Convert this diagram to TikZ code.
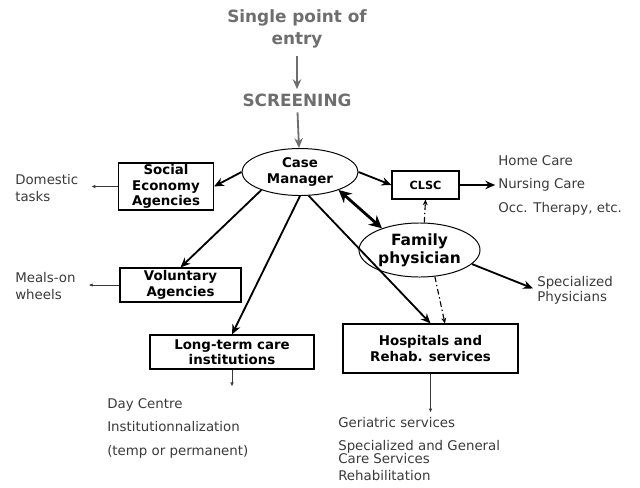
\documentclass[tikz,border=0pt]{standalone}
\usepackage{fontspec}
\setmainfont{DejaVu Sans}
\usetikzlibrary{
    positioning,
    arrows.meta,
    shapes.geometric
    }
\definecolor{titlegray}{HTML}{6E6E6E}
\definecolor{textgray}{HTML}{3A3A3A}

\begin{document}
\begin{tikzpicture}[x=0.025cm, y=-0.025cm]
\tikzset{title/.style =
        {
            align=center,
            inner sep=0pt,
            text=titlegray,
            font=\fontsize{12}{15.6}\selectfont\bfseries
        }
}

\tikzset{service/.style =
        {
            rectangle,
            line width=0.8pt,
            inner sep=0pt,
            align=center,
            font=\fontsize{9.5}{11}\selectfont\bfseries,
            draw
        }
}

\tikzset{actor/.style =
        {
            shape=ellipse,
            line width=0.7pt,
            inner sep=0pt,
            align=center,
            font=\fontsize{9.5}{11.5}\selectfont\bfseries,
            draw
        }
}

\tikzset{note/.style =
        {
            align=left,
            inner sep=0pt,
            text=textgray,
            font=\fontsize{9.5}{11.5}\selectfont
        }
}

\tikzset{list/.style = { note, font=\fontsize{9.5}{16.7}\selectfont } }

\tikzset{feed/.style = {
            line width=1.3pt,
            titlegray,
            -{Stealth[length=7pt, width=6pt]}
        }
}

\tikzset{link/.style = {
            line width=1.3pt,
            -{Stealth[length=7pt, width=6pt]}
        }
}

\tikzset{leads/.style = {
            line width=0.6pt,
            textgray,
            -{Latex[length=3pt, width=2.5pt]}
        }
}

\tikzset{refer/.style = {
        line width=0.8pt,
        dash pattern=on 4pt off 2pt on 1pt off 2pt,
        -{Stealth[length=4pt, width=3.5pt]}
    }
}

		\useasboundingbox (0,0) rectangle (640,488);

		\node[title] at (297,29) (entry) {Single point of\\entry};
		\node[title] at (297,100) (screen) {SCREENING};

		\node[actor, minimum width=2.9cm, minimum height=1.175cm] at (300,172) (cm) {Case\\Manager};
		\node[actor, minimum width=3.025cm, minimum height=1.35cm,
			font=\fontsize{11}{13}\selectfont\bfseries] at (419.5,250) (fam) {Family\\physician};

		\node[service, minimum width=2.375cm, minimum height=1.175cm] at (166,186.5) (soc) {Social\\Economy\\Agencies};
		\node[service, minimum width=3.025cm, minimum height=0.85cm] at (180.5,285) (vol) {Voluntary\\Agencies};
		\node[service, minimum width=4.1cm, minimum height=0.85cm] at (232,352) (ltc) {Long-term care\\institutions};
		\node[service, minimum width=4.375cm, minimum height=1.225cm] at (430.5,348.5) (hosp) {Hospitals and\\Rehab. services};
		\node[service, minimum width=1.675cm, minimum height=0.7cm,
			font=\fontsize{8}{9}\selectfont\bfseries] at (425.5,185) (clsc) {CLSC};

		\node[note, anchor=west] at (15,188) (dom) {Domestic\\tasks};
		\node[note, anchor=west] at (15,286) (meals) {Meals-on\\wheels};
		\node[list, anchor=west] at (498,185) (home) {Home Care\\Nursing Care\\Occ. Therapy, etc.};
		\node[note, anchor=west, font=\fontsize{9.5}{10.7}\selectfont] at (537,290) (spec) {Specialized\\Physicians};
		\node[list, anchor=west] at (107,428) (day) {Day Centre\\Institutionnalization\\(temp or permanent)};
		\node[note, anchor=north west, font=\fontsize{9.5}{9.3}\selectfont] at (338,417) (geri)
			{Geriatric services\\[6.8pt]Specialized and General\\Care Services\\[2.7pt]Rehabilitation};

		\draw [feed, shorten <=5pt, shorten >=3pt] (entry) -- (screen);
		\draw [feed, shorten <=4pt] (screen) -- (cm);

		\foreach \start / \finish in
			{cm.west/soc.east,
				cm.205/vol.north,
				cm.south/ltc.north,
				cm.290/hosp.north,
				cm.east/clsc.west}
			\draw [link] (\start) -- (\finish);

		\draw [link, shorten >=2pt] (clsc.east) -- (home.west);
		\draw [link, shorten >=3pt] (fam.345) -- (spec.west);
		\draw [line width=2pt, {Stealth[length=9pt, width=9pt]}-{Stealth[length=9pt, width=9pt]}] (cm.335) -- (fam.150);

		\draw [refer] (fam.80) -- (clsc.south);
		\draw [refer] (fam.300) -- ([xshift=0.36cm]hosp.north);

		\draw [leads, shorten >=9pt] (soc.west) -- (soc.west -| dom.east);
		\draw [leads, shorten >=9pt] (vol.west) -- (vol.west -| meals.east);
		\draw [leads, shorten >=8pt] (ltc.south) -- (ltc.south |- day.north);
		\draw [leads, shorten >=3pt] (hosp.south) -- (hosp.south |- geri.north);

	\end{tikzpicture}
\end{document}
